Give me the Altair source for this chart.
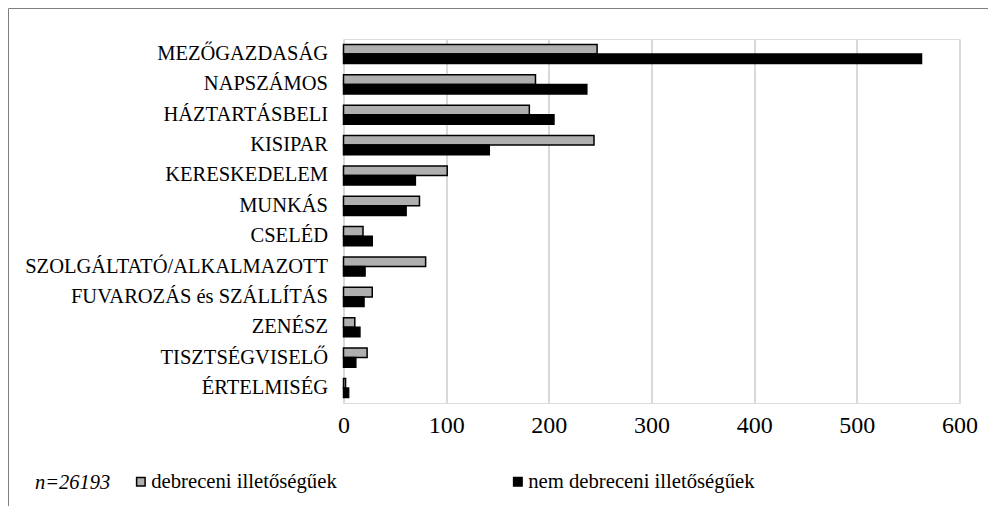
import altair as alt
import pandas as pd

categories = ["MEZŐGAZDASÁG", "NAPSZÁMOS", "HÁZTARTÁSBELI", "KISIPAR", "KERESKEDELEM",
              "MUNKÁS", "CSELÉD", "SZOLGÁLTATÓ/ALKALMAZOTT", "FUVAROZÁS és SZÁLLÍTÁS",
              "ZENÉSZ", "TISZTSÉGVISELŐ", "ÉRTELMISÉG"]
series = ["debreceni illetőségűek", "nem debreceni illetőségűek"]
debreceni = [247, 187, 181, 244, 101, 74, 19, 80, 28, 11, 23, 2]
nem_debreceni = [563, 237, 205, 142, 70, 61, 28, 21, 20, 16, 12, 5]
x_ticks = [0, 100, 200, 300, 400, 500, 600]
note = "n=26193"

rows = []
for c, a, b in zip(categories, debreceni, nem_debreceni):
    rows.append({"cat": c, "series": series[0], "value": a})
    rows.append({"cat": c, "series": series[1], "value": b})
df = pd.DataFrame(rows)

FONT = "Liberation Serif"
PLOT_W, PLOT_H = 616, 364

bars = alt.Chart(df).mark_bar(stroke="black", strokeWidth=1.5).encode(
    x=alt.X("value:Q",
            scale=alt.Scale(domain=[0, 600], nice=False),
            axis=alt.Axis(values=x_ticks, title=None, domain=False, ticks=False,
                          labelFont=FONT, labelFontSize=24, labelColor="black",
                          labelFlush=False,
                          labelPadding=10, grid=True, gridColor="#d9d9d9", gridWidth=2)),
    y=alt.Y("cat:N", sort=categories,
            scale=alt.Scale(paddingInner=0.37, paddingOuter=0.18),
            axis=alt.Axis(title=None, domain=False, ticks=False, grid=False,
                          labelFont=FONT, labelFontSize=20.5, labelColor="black",
                          labelPadding=16, labelLimit=400)),
    yOffset=alt.YOffset("series:N", sort=series),
    color=alt.Color("series:N", sort=series,
                    scale=alt.Scale(domain=series, range=["#afafaf", "#000000"]),
                    legend=alt.Legend(title=None, orient="none", direction="horizontal",
                                      legendX=-213, legendY=432, padding=0,
                                      symbolType="square", symbolSize=72,
                                      symbolStrokeColor="black", symbolStrokeWidth=1.5,
                                      labelFont=FONT, labelFontSize=20.7, labelColor="black",
                                      labelOffset=0, columnPadding=170, labelLimit=400)),
)

note_text = alt.Chart(alt.Data(values=[{"t": note}])).mark_text(
    font=FONT, fontSize=20.5, fontStyle="italic", align="left", baseline="middle", color="black"
).encode(text="t:N", x=alt.value(-308.5), y=alt.value(444))

frame = alt.Chart(alt.Data(values=[{"a": 1}])).mark_rect(
    filled=False, stroke="#7f7f7f", strokeWidth=1
).encode(x=alt.value(-335), x2=alt.value(700), y=alt.value(-30.5), y2=alt.value(600))

chart = alt.layer(frame, bars, note_text).properties(
    width=PLOT_W, height=PLOT_H,
    autosize=alt.AutoSizeParams(type="none"),
    padding={"left": 335.5, "top": 31, "right": 28, "bottom": 103},
).configure_view(stroke=None).configure(background="white", font=FONT)

chart.save("out.html", embed_options={"renderer": "svg", "actions": False})
